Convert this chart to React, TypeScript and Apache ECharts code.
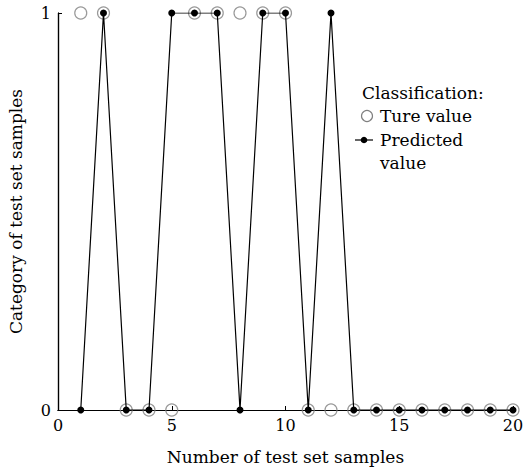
import React, { useEffect, useRef } from "react";
import * as echarts from "echarts";

const sampleIndex = [1, 2, 3, 4, 5, 6, 7, 8, 9, 10, 11, 12, 13, 14, 15, 16, 17, 18, 19, 20];
const trueValues = [1, 1, 0, 0, 0, 1, 1, 1, 1, 1, 0, 0, 0, 0, 0, 0, 0, 0, 0, 0];
const predictedValues = [0, 1, 0, 0, 1, 1, 1, 0, 1, 1, 0, 1, 0, 0, 0, 0, 0, 0, 0, 0];
const xTicks = [0, 5, 10, 15, 20];
const yTicks = [0, 1];

const FONT = "DejaVu Serif";

export default function App() {
  const ref = useRef<HTMLDivElement>(null);
  useEffect(() => {
    document.body.style.margin = "0";
    if (!ref.current) return;
    const chart = echarts.init(ref.current, null, { renderer: "svg" });
    const textStyle = { fontFamily: FONT, color: "#000" };
    chart.setOption({
      animation: false,
      textStyle,
      grid: { left: 58, right: 10, top: 13, bottom: 58, containLabel: false, outerBoundsMode: "none" },
      xAxis: [
        {
          type: "value",
          min: xTicks[0],
          max: xTicks[xTicks.length - 1],
          interval: 5,
          name: "Number of test set samples",
          nameLocation: "middle",
          nameGap: 38,
          nameTextStyle: { fontFamily: FONT, fontSize: 17, color: "#000" },
          axisLine: { lineStyle: { color: "#000", width: 1.2 } },
          axisTick: { inside: true, length: 4, lineStyle: { color: "#000" } },
          axisLabel: { fontFamily: FONT, fontSize: 16, color: "#000", margin: 7 },
          splitLine: { show: false },
        },
        {
          type: "value",
          position: "top",
          min: 0,
          max: 20,
          axisLine: { show: true, lineStyle: { color: "#000", width: 1.2 } },
          axisTick: { show: false },
          axisLabel: { show: false },
          splitLine: { show: false },
        },
      ],
      yAxis: [
        {
          type: "value",
          min: yTicks[0],
          max: yTicks[yTicks.length - 1],
          interval: 1,
          name: "Category of test set samples",
          nameLocation: "middle",
          nameGap: 34,
          nameTextStyle: { fontFamily: FONT, fontSize: 17, color: "#000" },
          axisLine: { show: true, lineStyle: { color: "#000", width: 1.2 } },
          axisTick: { inside: true, length: 4, lineStyle: { color: "#000" } },
          axisLabel: { fontFamily: FONT, fontSize: 16, color: "#000", margin: 7 },
          splitLine: { show: false },
        },
        {
          type: "value",
          position: "right",
          min: 0,
          max: 1,
          axisLine: { show: true, lineStyle: { color: "#000", width: 1.2 } },
          axisTick: { show: false },
          axisLabel: { show: false },
          splitLine: { show: false },
        },
      ],
      series: [
        {
          name: "Ture value",
          type: "scatter",
          data: sampleIndex.map((x, i) => [x, trueValues[i]]),
          symbol: "circle",
          symbolSize: 12,
          itemStyle: { color: "rgba(0,0,0,0)", borderColor: "#808080", borderWidth: 1.2 },
          z: 2,
        },
        {
          name: "Predicted value",
          type: "line",
          data: sampleIndex.map((x, i) => [x, predictedValues[i]]),
          symbol: "circle",
          symbolSize: 7,
          showSymbol: true,
          lineStyle: { color: "#000", width: 1.2 },
          itemStyle: { color: "#000", borderWidth: 0 },
          z: 3,
        },
      ],
      graphic: [
        { type: "text", x: 362, y: 93, style: { text: "Classification:", font: `17px "${FONT}"`, fill: "#000", verticalAlign: "middle" } },
        { type: "circle", shape: { cx: 367, cy: 116, r: 5.5 }, style: { fill: "none", stroke: "#808080", lineWidth: 1.2 } },
        { type: "text", x: 380, y: 116, style: { text: "Ture value", font: `17px "${FONT}"`, fill: "#000", verticalAlign: "middle" } },
        { type: "line", shape: { x1: 355, y1: 140, x2: 373, y2: 140 }, style: { stroke: "#000", lineWidth: 1.2 } },
        { type: "circle", shape: { cx: 364, cy: 140, r: 3.3 }, style: { fill: "#000" } },
        { type: "text", x: 380, y: 140, style: { text: "Predicted", font: `17px "${FONT}"`, fill: "#000", verticalAlign: "middle" } },
        { type: "text", x: 380, y: 163, style: { text: "value", font: `17px "${FONT}"`, fill: "#000", verticalAlign: "middle" } },
      ],
    });
    return () => chart.dispose();
  }, []);
  return <div ref={ref} style={{ width: 523, height: 468, background: "#fff" }} />;
}
